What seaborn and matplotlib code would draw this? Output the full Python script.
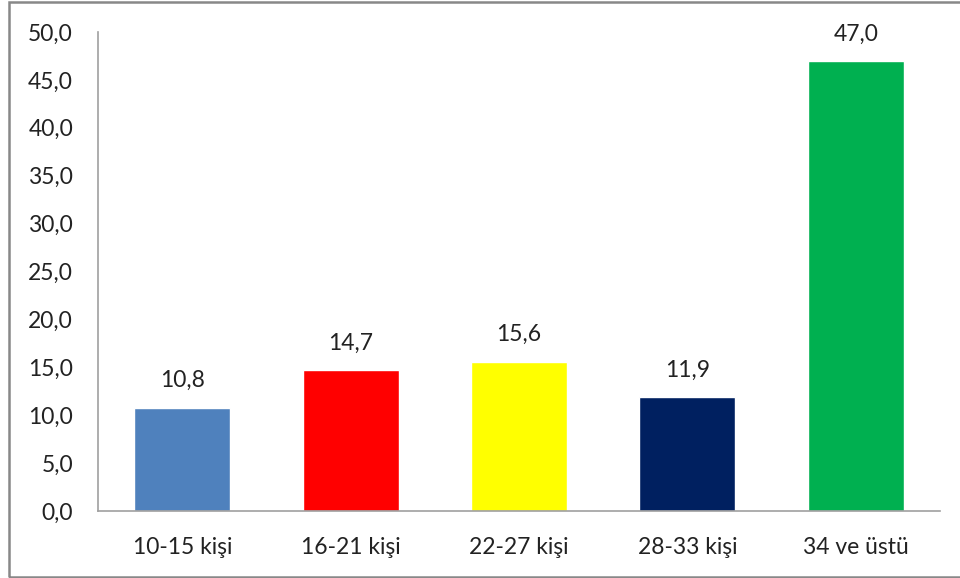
import matplotlib
matplotlib.use("Agg")
import matplotlib.pyplot as plt
from matplotlib.patches import Rectangle
import seaborn as sns
import pandas as pd

categories = ["10-15 kişi", "16-21 kişi", "22-27 kişi", "28-33 kişi", "34 ve üstü"]
values = [10.8, 14.7, 15.6, 11.9, 47.0]
colors = ["#4F81BD", "#FF0000", "#FFFF00", "#002060", "#00B050"]
yticks = [0, 5, 10, 15, 20, 25, 30, 35, 40, 45, 50]

sns.set_theme(style="white")
plt.rcParams["font.family"] = ["Lato", "DejaVu Sans"]

df = pd.DataFrame({"grup": categories, "oran": values})

W, H = 960, 578
fig = plt.figure(figsize=(W / 100, H / 100), dpi=100)
ax = fig.add_axes([98 / W, 1 - 511 / H, (940 - 98) / W, (511 - 32) / H])

sns.barplot(data=df, x="grup", y="oran", hue="grup", palette=colors,
            width=0.57, legend=False, ax=ax, saturation=1)

ax.set_ylim(0, 50)
ax.set_xlim(-0.5, len(categories) - 0.5)
ax.set_yticks(yticks)
ax.set_yticklabels([f"{t:.1f}".replace(".", ",") for t in yticks])
ax.set_xlabel("")
ax.set_ylabel("")
ax.tick_params(axis="both", length=0, labelsize=16.5, colors="#222222")
ax.tick_params(axis="y", pad=18)
ax.tick_params(axis="x", pad=19)

for side in ("top", "right"):
    ax.spines[side].set_visible(False)
for side in ("left", "bottom"):
    ax.spines[side].set_color("#A0A0A0")
    ax.spines[side].set_linewidth(1.2)

for i, v in enumerate(values):
    ax.text(i, v + 1.7, f"{v:.1f}".replace(".", ","), ha="center", va="bottom",
            fontsize=16.5, color="#222222")

# outer frame of the chart area
fig.patches.append(Rectangle((9 / W, 1 - 577 / H), (W + 10 - 9) / W, (577 - 2) / H,
                             transform=fig.transFigure, fill=False,
                             edgecolor="#888888", linewidth=1.8))

fig.savefig("out.png", dpi=100)
